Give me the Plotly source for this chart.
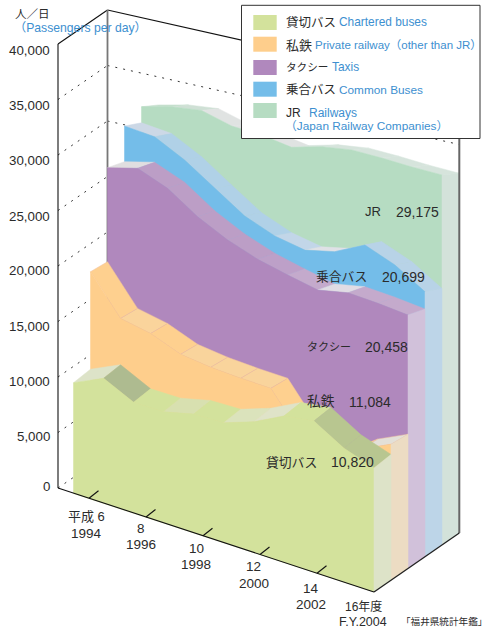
import plotly.graph_objects as go

# ---------- data (passengers per day) ----------
YEARS = list(range(1994, 2005))
CHARTERED = [9980, 11270, 9990, 10030, 10710, 10810, 11790, 13190, 13630, 12060, 11170]
PRIVATE = [18920, 15600, 15130, 14140, 13860, 13760, 13740, 10410, 9050, 10930, 12250]
TAXI = [27230, 28060, 27140, 25470, 24260, 23410, 22880, 22420, 23060, 23000, 22830]
COMMON = [29920, 29840, 28630, 26970, 25360, 24450, 24070, 24810, 26300, 25380, 23860]
JR = [30590, 31480, 32030, 31520, 31590, 31370, 32320, 32910, 33070, 33150, 33320]

SERIES_NAMES_JA = ["貸切バス", "私鉄", "タクシー", "乗合バス", "JR"]
SERIES_NAMES_EN = ["Chartered buses", "Private railway（other than JR）", "Taxis", "Common Buses", "Railways"]
LABEL_VALUES = ["10,820", "11,084", "20,458", "20,699", "29,175"]
Y_TICKS = [0, 5000, 10000, 15000, 20000, 25000, 30000, 35000, 40000]
X_TICK_YEARS = [1994, 1996, 1998, 2000, 2002]
X_LABELS_TOP = ["平成 6", "8", "10", "12", "14", "16年度"]
X_LABELS_BOTTOM = ["1994", "1996", "1998", "2000", "2002", "F.Y.2004"]

# ---------- oblique projection ----------
ALL = [CHARTERED, PRIVATE, TAXI, COMMON, JR]
PX = 0.0111          # pixels per passenger
X0, Y0 = 73.5, 493.5
DX, DZ = 17.0, 11.8  # offset of one slab
SX, SY = 30.05, 9.85 # offset of one year
TOP_RISE = [13.5, 10.0, 6.0, 3.2, 1.8]

FACE = ["#d3e29c", "#fece8c", "#b088bd", "#74bde9", "#b6dcc2"]
SIDE = ["#dde3c8", "#ecdcc3", "#d1c1da", "#bdd5e8", "#d3e2da"]
FACETS = [
    ["#dde3c8", "#aebb90", "#d3e29c", "#d8e0b0", "#d3e29c", "#dbe3bc", "#dfe3c8", "#d3e29c", "#b8c690", "#b8c690"],
    ["#fed08f", "#fad49c", "#fed08f", "#f9d49c", "#f9d49c", "#f9d49c", "#fed08f", "#fed08f", "#fed08f", "#e3e0d8"],
    ["#e0dee0", "#bc9ec6", "#bc9ec6", "#bc9ec6", "#bc9ec6", "#bda0c8", "#c4aacc", "#e0dce4", "#c4aacc", "#c4aacc"],
    ["#ccd8e6", "#b0d1e7", "#b0d1e7", "#b0d1e7", "#b0d1e7", "#c2d6e8", "#dfe1e6", "#b8d3e7", "#b8d3e7", "#b8d3e7"],
    ["#c4dfcc", "#cfe0d5", "#e0e3e2", "#e0e3e2", "#e0e3e2", "#d6e4dc", "#d6e4dc", "#d6e4dc", "#d6e4dc", "#d6e4dc"],
]
EDGE = [None, "#eebf9e", None, None, None]

# floor / walls
FL = (58.0, 488.0)    # front-left floor corner
FR = (374.0, 592.0)   # front-right floor corner
BL = (107.5, 454.0)   # back-left floor corner
BR = (459.3, 533.0)   # back-right floor corner


def hpx(v):
    return v * PX


def front(i, k, v):
    return X0 + i * DX + k * SX, Y0 - i * DZ + k * SY - hpx(v)


def back(i, k, v):
    x, y = front(i, k, v)
    return x + DX, y - TOP_RISE[i]


def base(i, k):
    return front(i, k, 0)


fig = go.Figure()


def poly(pts, color, edge=None):
    xs = [p[0] for p in pts] + [pts[0][0]]
    ys = [p[1] for p in pts] + [pts[0][1]]
    fig.add_trace(go.Scatter(
        x=xs, y=ys, mode="lines", fill="toself", fillcolor=color,
        line=dict(color=edge or color, width=0.5), hoverinfo="skip", showlegend=False))


def line(x0, y0, x1, y1, color="#111111", width=1.0, dash="solid"):
    fig.add_trace(go.Scatter(
        x=[x0, x1], y=[y0, y1], mode="lines",
        line=dict(color=color, width=width, dash=dash), hoverinfo="skip", showlegend=False))


# walls: dotted grid
for t in Y_TICKS[:-1]:
    h = hpx(t)
    if t > 0:
        line(BL[0], BL[1] - h, BR[0], BR[1] - h, "#333333", 1, "2px,6px")
    line(FL[0], FL[1] - h, BL[0], BL[1] - h, "#333333", 1, "2px,6px")

# wall frame
H40 = hpx(Y_TICKS[-1])
line(FL[0], FL[1], FL[0], FL[1] - H40, "#111111", 1.1)
line(FL[0], FL[1] - H40, BL[0], BL[1] - H40, "#111111", 1.1)
line(BL[0], BL[1] - H40, BR[0], BR[1] - H40, "#111111", 1.1)
line(BL[0], BL[1] - H40, BL[0], BL[1], "#777777", 1.8)

# slabs, back to front
for i in range(4, -1, -1):
    vals = ALL[i]
    n = len(vals)
    for k in range(n - 1):
        poly([front(i, k, vals[k]), front(i, k + 1, vals[k + 1]),
              back(i, k + 1, vals[k + 1]), back(i, k, vals[k])],
             FACETS[i][k], EDGE[i])
    top = [front(i, k, vals[k]) for k in range(n)]
    poly(top + [base(i, n - 1), base(i, 0)], FACE[i])
    bx, by = base(i, n - 1)
    poly([top[-1], back(i, n - 1, vals[-1]), (bx + DX, by - DZ), (bx, by)], SIDE[i])

# right wall edge and floor
line(BR[0], BR[1] - H40, BR[0], BR[1], "#666666", 2)
line(FL[0], FL[1], FR[0], FR[1], "#111111", 1.1)
line(FR[0], FR[1], BR[0], BR[1], "#222222", 1.3)

# x ticks
for yr in X_TICK_YEARS:
    x = 89 + (yr - X_TICK_YEARS[0]) * 28.5
    y = FL[1] + (x - FL[0]) * (FR[1] - FL[1]) / (FR[0] - FL[0])
    line(x, y, x + 9.5, y - 7.5, "#111111", 1.1)

FONT = "Liberation Sans, Noto Sans CJK JP, sans-serif"
DARK = "#2b2b2b"
BLUE = "#3d8fd0"
ann = []


def text(x, y, s, size=13.3, color=DARK, anchor="left"):
    ann.append(dict(x=x, y=y, text=s, xref="x", yref="y", showarrow=False,
                    xanchor=anchor, yanchor="middle", borderpad=0,
                    font=dict(family=FONT, size=size, color=color)))


# y tick labels
Y_LABEL_POS = [486.7, 436, 381, 326, 270.7, 216, 160.7, 105, 50.7]
for t, yp in zip(Y_TICKS, Y_LABEL_POS):
    text(50.5, yp, f"{t:,}", 13.3, DARK, "right")
text(14, 13.5, "人／日", 11.5, DARK)
text(13, 28, "（Passengers per day）", 12.2, BLUE)

# x tick labels
X_LABEL_X = [86.7, 141, 196.3, 253.5, 310.7, 363.3]
X_LABEL_Y1 = [516.7, 528.3, 548.3, 566.7, 588.3, 606.7]
X_LABEL_Y2 = [533, 544, 564, 583.3, 604, 621.7]
X_TOP_SIZE = [13, 13.5, 13.5, 13.5, 13.5, 12]
X_BOT_SIZE = [13.5, 13.5, 13.5, 13.5, 13.5, 12.5]
for a, b, x, y1, y2, s1, s2 in zip(X_LABELS_TOP, X_LABELS_BOTTOM, X_LABEL_X, X_LABEL_Y1,
                                   X_LABEL_Y2, X_TOP_SIZE, X_BOT_SIZE):
    text(x, y1, a, s1, DARK, "center")
    text(x, y2, b, s2, DARK, "center")
text(400, 621.5, "「福井県統計年鑑」", 9.6, DARK)

# value labels
LAB_JA_X = [265, 305.5, 305.5, 315, 364]
LAB_NUM_X = [374.5, 391.5, 408.5, 425.5, 440]
LAB_Y = [462, 401.7, 346.7, 276.7, 211.7]
LAB_JA_SIZE = [12.8, 13.8, 11, 12.8, 13]
for ja, num, xj, xn, y, sz in zip(SERIES_NAMES_JA, LABEL_VALUES, LAB_JA_X, LAB_NUM_X, LAB_Y, LAB_JA_SIZE):
    text(xj, y, ja, sz, DARK)
    text(xn, y, num, 14, DARK, "right")

# legend
shapes = [dict(type="rect", xref="x", yref="y", x0=241.5, x1=480, y0=5.3, y1=138.5,
               fillcolor="white", line=dict(color="#333333", width=1), layer="above")]
SW_Y = [15, 36.7, 60, 81.7, 103]
for c, y in zip(FACE, SW_Y):
    shapes.append(dict(type="rect", xref="x", yref="y", x0=253.3, x1=276.7, y0=y, y1=y + 15,
                       fillcolor=c, line=dict(width=0), layer="above"))
LEG_EN_X = [337.7, 314.3, 330.5, 337.7, 307.7]
LEG_Y = [22.3, 45, 67.3, 90, 112.5]
LEG_JA_SIZE = [12.5, 13, 10.6, 12.5, 12]
LEG_EN_SIZE = [11.9, 11.5, 11.9, 11.8, 12]
for ja, en, xe, y, sj, se in zip(SERIES_NAMES_JA, SERIES_NAMES_EN, LEG_EN_X, LEG_Y, LEG_JA_SIZE, LEG_EN_SIZE):
    text(284.5, y, ja, sj, DARK)
    text(xe, y, en, se, BLUE)
text(284, 126, "（Japan Railway Companies）", 11.8, BLUE)

fig.update_layout(
    width=487, height=628, margin=dict(l=0, r=0, t=0, b=0),
    paper_bgcolor="white", plot_bgcolor="white", showlegend=False,
    xaxis=dict(range=[0, 487], visible=False, fixedrange=True),
    yaxis=dict(range=[628, 0], visible=False, fixedrange=True),
    annotations=ann, shapes=shapes,
)
fig.write_html("out.html", config={"displayModeBar": False},
               post_script="document.body.style.margin='0';")
